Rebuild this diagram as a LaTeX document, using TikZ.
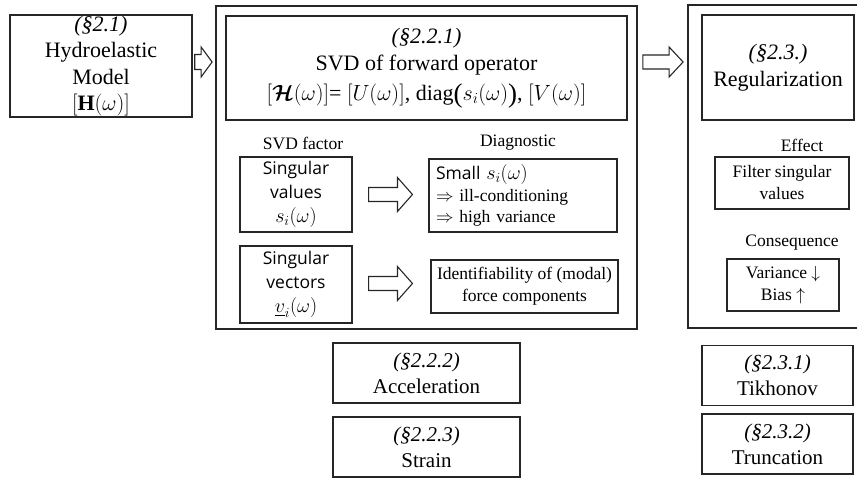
\RequirePackage{fix-cm}
\documentclass[tikz,border=0pt]{standalone}
\usepackage{amsmath}
\usepackage{bm}
\usepackage{fontspec}
\setmainfont{Liberation Serif}
\setsansfont{Open Sans}
\usepackage{tikz}
\usetikzlibrary{positioning, calc}

\newcommand{\bigtxt}{\fontsize{22}{27}\selectfont}
\newcommand{\midtxt}{\fontsize{21}{26}\selectfont}
\newcommand{\smalltxt}{\fontsize{17.5}{22}\selectfont}
\newcommand{\sanstxt}{\sffamily\fontsize{17.5}{24}\selectfont}
\newcommand{\mathtxt}[1]{{\fontsize{20}{24}\selectfont$#1$}}
\newcommand{\tallparen}[1]{\raisebox{-1.5pt}{\fontsize{27}{27}\selectfont#1}}

\tikzset{
	outerframe/.style={draw=black!85, line width=1.8pt},
	bigbox/.style={draw=black!85, line width=1.5pt, align=center, inner sep=0pt},
	box/.style={draw=black!85, line width=1.1pt, align=center, inner sep=0pt},
	headtext/.style={inner sep=0pt, font=\smalltxt},
	fatarrow/.style n args={3}{draw=black!85, line width=1.1pt, fill=white, line join=miter,
		to path={let \p1=(\tikztostart), \p2=(\tikztotarget) in
			(\x1,\y1+#1pt) -- (\x2-#3pt,\y1+#1pt) -- (\x2-#3pt,\y1+#2pt) -- (\x2,\y1)
			-- (\x2-#3pt,\y1-#2pt) -- (\x2-#3pt,\y1-#1pt) -- (\x1,\y1-#1pt) -- cycle}},
}

\begin{document}
\begin{tikzpicture}[x=1pt, y=-1pt]
	
	%//page is 857 x 478, y runs downwards
	\useasboundingbox (0,0) rectangle (857,478);
	
	\node [bigbox, minimum width=182, minimum height=102, font=\fontsize{22}{26.5}\selectfont] (hydro) at (101,66)
	{\textit{(§2.1)}\\Hydroelastic\\Model\\$[\mathbf{H}(\omega)]$};
	
	%//middle block
	\node [outerframe, minimum width=421, minimum height=323] (midframe) at (426.5,167.5) {};
	\node [bigbox, minimum width=401, minimum height=104, font=\bigtxt] (svdbox) at (426.5,68)
	{\textit{(§2.2.1)}\\SVD of forward operator\\[3pt]
		$[\bm{\mathcal{H}}(\omega)]$= $[U(\omega)]$, diag\tallparen{(}$s_i(\omega)$\tallparen{)}, $[V(\omega)]$};
	
	\node [headtext] (factorhead) at (303,143) {SVD factor};
	\node [headtext] (diaghead) at (518,143) {Diagnostic};
	
	\node [box, minimum width=112, minimum height=75, font=\sanstxt] (valbox) at (296,194.5)
	{Singular\\values\\\mathtxt{s_i(\omega)}};
	\node [box, minimum width=112, minimum height=77, font=\sanstxt] (vecbox) at (296,284.5)
	{Singular\\vectors\\\mathtxt{\underline{v}_i(\omega)}};
	
	\node [box, align=left, text width=174, inner xsep=7pt, minimum height=73,
	font=\fontsize{17.5}{21.5}\selectfont] (smallbox) at (523,195.5)
	{{\sffamily Small} \mathtxt{s_i(\omega)}\\$\Rightarrow$ ill-conditioning\\$\Rightarrow$ high variance};
	\node [box, minimum width=187, minimum height=53, font=\smalltxt] (identbox) at (524.5,286.5)
	{Identifiability of (modal)\\force components};
	
	%//right block
	\node [outerframe, minimum width=176, minimum height=323] (regframe) at (776,166.5) {};
	\node [bigbox, minimum width=152, minimum height=105, font=\bigtxt] (regbox) at (778,67.5)
	{\textit{(§2.3.)}\\Regularization};
	
	\node [headtext] (effecthead) at (802,145) {Effect};
	\node [box, minimum width=134, minimum height=52, font=\smalltxt] (filterbox) at (782,183)
	{Filter singular\\values};
	\node [headtext] (conshead) at (792,243) {Consequence};
	\node [box, minimum width=112, minimum height=52, font=\smalltxt] (varbox) at (783,285)
	{Variance $\downarrow$\\Bias $\uparrow$};
	
	%//sub-sections below the blocks
	\foreach \cx/\cy/\w/\sec/\txt/\name in {426.5/373/187/2.2.2/Acceleration/accbox,
		426.5/447/187/2.2.3/Strain/strainbox,
		777.5/375.5/151/2.3.1/Tikhonov/tikbox,
		777.5/444/151/2.3.2/Truncation/truncbox}
	\node [box, minimum width=\w, minimum height=60, font=\midtxt] (\name) at (\cx,\cy)
	{\textit{(§\sec)}\\\txt};
	
	%//block arrows
	\coordinate (a1s) at ($(hydro.east)+(2,-4)$);
	\coordinate (a1e) at ($(midframe.west |- a1s)+(-3,0)$);
	\coordinate (a4s) at ($(midframe.east |- a1s)+(5,0)$);
	\coordinate (a4e) at ($(regframe.west |- a1s)+(-4,0)$);
	\coordinate (a2s) at ($(valbox.east)+(16,0)$);
	\coordinate (a2e) at ($(smallbox.west |- a2s)+(-16,0)$);
	\coordinate (a3s) at ($(vecbox.east)+(16,-1)$);
	\coordinate (a3e) at ($(identbox.west |- a3s)+(-18,0)$);
	
	\draw [fatarrow={7.5}{15}{11}] (a1s) to (a1e);
	\draw [fatarrow={7}{15}{14}] (a4s) to (a4e);
	\draw [fatarrow={7}{17}{15}] (a2s) to (a2e);
	\draw [fatarrow={7}{17}{15}] (a3s) to (a3e);
	
\end{tikzpicture}
\end{document}
